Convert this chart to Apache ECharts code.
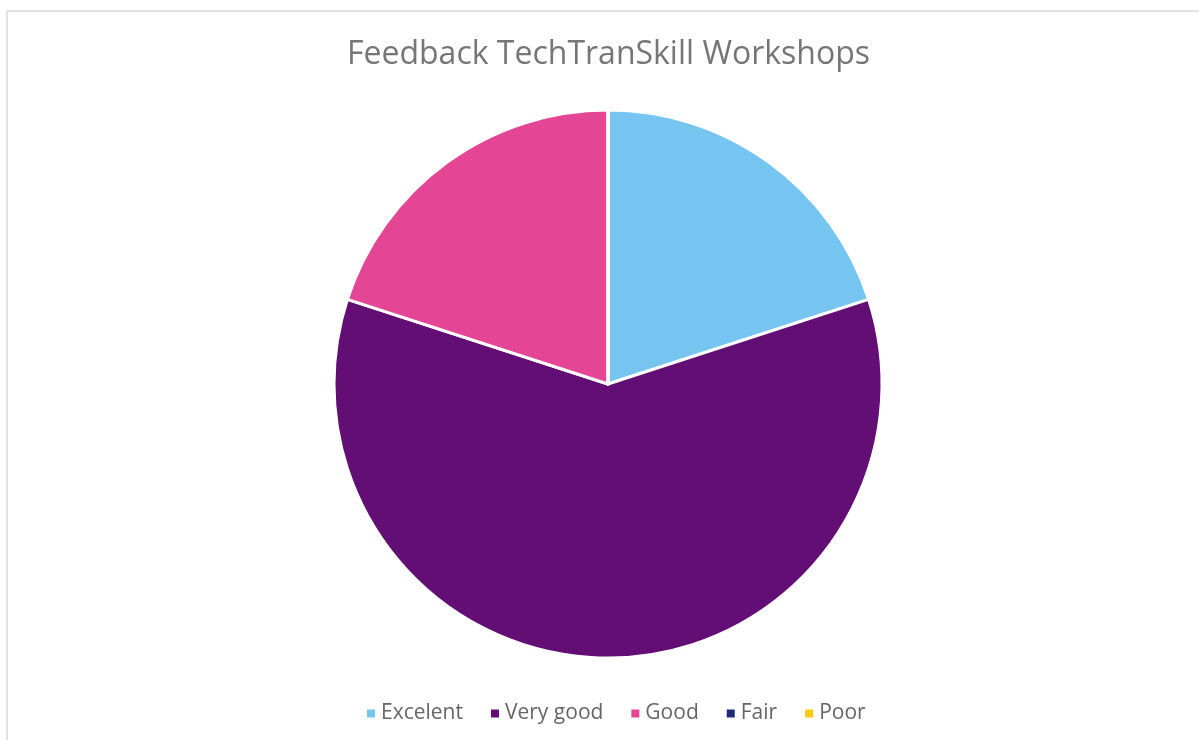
<!DOCTYPE html>
<html>
<head>
<meta charset="utf-8">
<script src="https://cdn.jsdelivr.net/npm/echarts@6/dist/echarts.min.js"></script>
<style>
  html, body { margin: 0; padding: 0; background: #fff; overflow: hidden; }
  #frame { position: absolute; left: 6px; top: 10px; width: 1300px; height: 800px;
           border-left: 2px solid #e3e3e3; border-top: 2px solid #e3e3e3; }
  #chart { position: absolute; left: 0; top: 0; width: 1199px; height: 740px; }
</style>
</head>
<body>
<div id="frame"></div>
<div id="chart"></div>
<script>
  // feedback counts per rating
  var categories = ['Excelent', 'Very good', 'Good', 'Fair', 'Poor'];
  var values = [1, 3, 1, 0, 0];
  var colors = ['#75c5f0', '#620e75', '#e54595', '#1b2a7b', '#ffca15'];

  var chart = echarts.init(document.getElementById('chart'));

  var data = [];
  for (var i = 0; i < categories.length; i++) {
    data.push({ name: categories[i], value: values[i] });
  }

  chart.setOption({
    animation: false,
    color: colors,
    title: {
      text: 'Feedback TechTranSkill Workshops',
      left: 342,
      top: 34,
      textStyle: {
        fontFamily: 'Open Sans',
        fontWeight: 'normal',
        fontSize: 32,
        color: '#767676'
      }
    },
    legend: {
      bottom: 11,
      left: 360,
      icon: 'rect',
      itemWidth: 10,
      itemHeight: 10,
      itemGap: 26,
      textStyle: {
        fontFamily: 'Open Sans',
        fontSize: 21,
        color: '#666666'
      },
      data: categories
    },
    series: [{
      type: 'pie',
      center: [608, 384],
      radius: 274,
      startAngle: 90,
      clockwise: true,
      label: { show: false },
      labelLine: { show: false },
      silent: true,
      itemStyle: { borderColor: '#fff', borderWidth: 3 },
      data: data
    }]
  });
</script>
</body>
</html>
